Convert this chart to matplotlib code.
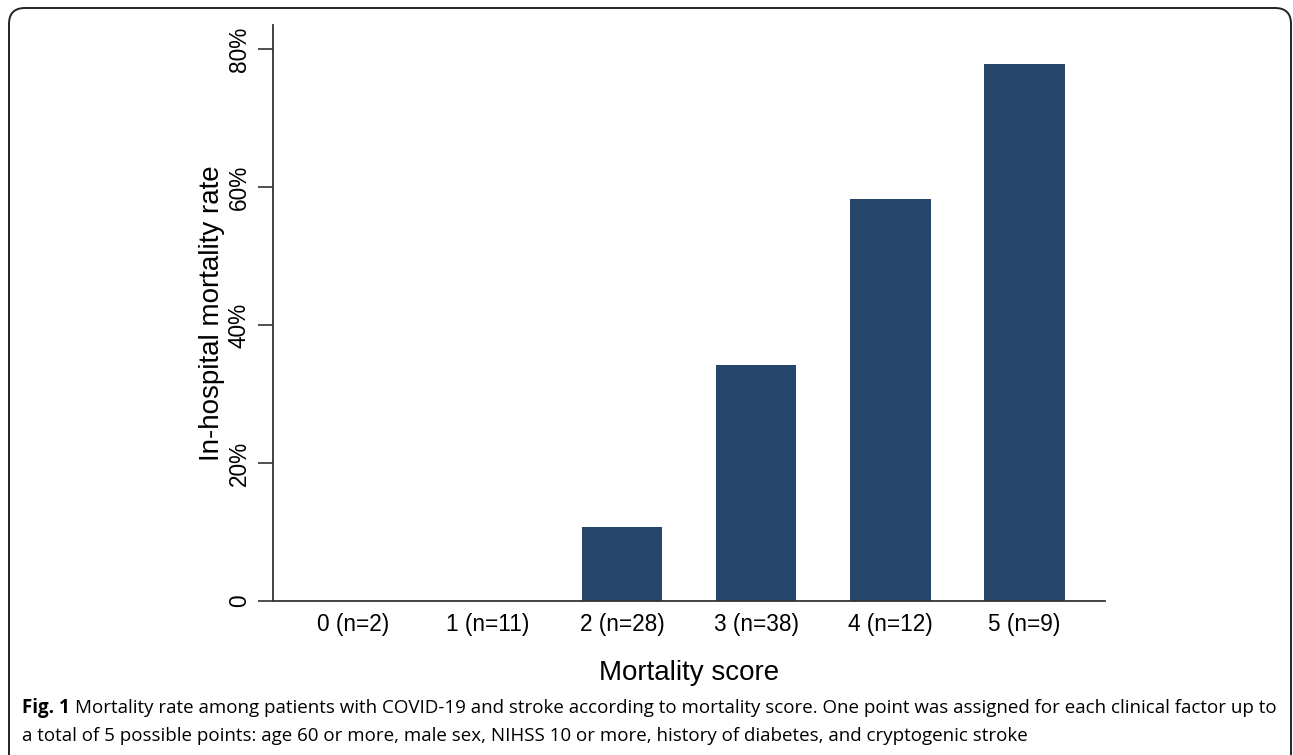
import matplotlib
matplotlib.use("Agg")
import matplotlib.pyplot as plt
from matplotlib.patches import FancyBboxPatch
from matplotlib.ticker import FuncFormatter

# -----------------------------
# Data
# -----------------------------

scores = ["0 (n=2)", "1 (n=11)", "2 (n=28)", "3 (n=38)", "4 (n=12)", "5 (n=9)"]
mortality = [0.0, 0.0, 0.107, 0.342, 0.583, 0.778]
yticks = [0.0, 0.2, 0.4, 0.6, 0.8]

bar_color = "#26476b"
axis_color = "#333333"

# -----------------------------
# Figure
# -----------------------------

W, H = 1293, 755
fig = plt.figure(figsize=(W / 100, H / 100), dpi=100)

ax = fig.add_axes([273 / W, 1 - 601 / H, (1105 - 273) / W, (601 - 25) / H])

x = range(len(scores))
ax.bar(x, mortality, width=0.6, color=bar_color)

ax.set_xlim(-0.6, 5.6)
ax.set_ylim(0, 0.835)

ax.set_xticks(list(x))
ax.set_xticklabels(scores, family="Liberation Sans", fontsize=16.3)
ax.tick_params(axis="x", length=0, pad=9)

ax.set_yticks(yticks)
ax.yaxis.set_major_formatter(FuncFormatter(lambda v, p: "0" if v == 0 else f"{v * 100:.0f}%"))
ax.tick_params(axis="y", length=11, width=1.2, color=axis_color, pad=5)
for lab in ax.get_yticklabels():
    lab.set_rotation(90)
    lab.set_va("center")
    lab.set_family("Liberation Sans")
    lab.set_fontsize(16.3)

for side in ["top", "right"]:
    ax.spines[side].set_visible(False)
for side in ["left", "bottom"]:
    ax.spines[side].set_color(axis_color)
    ax.spines[side].set_linewidth(1.3)

ax.set_xlabel("Mortality score", family="Liberation Sans", fontsize=20, labelpad=17)
ax.set_ylabel("In-hospital mortality rate", family="Liberation Sans", fontsize=20, labelpad=2)

# -----------------------------
# Rounded frame
# -----------------------------

frame = FancyBboxPatch(
    (9 / 100, -0.3), (1291 - 9) / 100, (747 / 100) + 0.3,
    boxstyle="round,pad=0,rounding_size=0.16",
    transform=fig.dpi_scale_trans,
    fill=False, edgecolor="#222222", linewidth=1.4,
)
fig.patches.append(frame)

# -----------------------------
# Caption
# -----------------------------

cap_size = 13.5
x0 = 22 / W
t1 = fig.text(x0, 1 - 713 / H, "Fig. 1", family="Open Sans", weight="bold",
              fontsize=cap_size, va="baseline")
fig.canvas.draw()
bb = t1.get_window_extent()
fig.text((bb.x1 + 5) / W, 1 - 713 / H,
         "Mortality rate among patients with COVID-19 and stroke according to mortality score. "
         "One point was assigned for each clinical factor up to",
         family="Open Sans", fontsize=cap_size, va="baseline")
fig.text(x0, 1 - 741 / H,
         "a total of 5 possible points: age 60 or more, male sex, NIHSS 10 or more, "
         "history of diabetes, and cryptogenic stroke",
         family="Open Sans", fontsize=cap_size, va="baseline")

fig.savefig("out.png", dpi=100)
plt.close(fig)
